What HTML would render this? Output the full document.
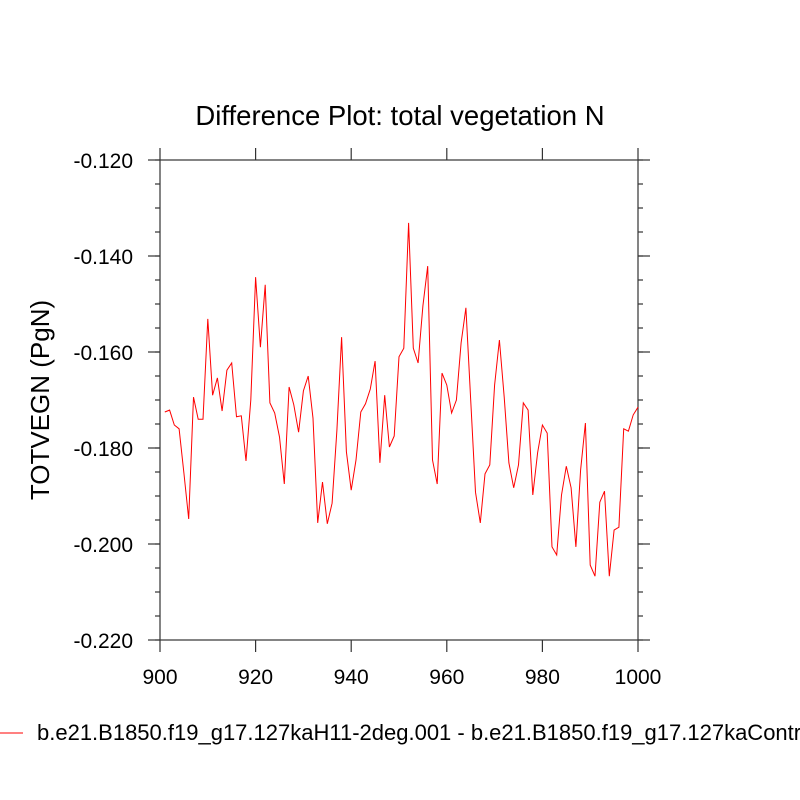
<!DOCTYPE html>
<html><head><meta charset="utf-8"><style>
html,body{margin:0;padding:0;background:#fff;width:800px;height:800px;overflow:hidden}
svg{display:block;font-family:"Liberation Sans",Arial,sans-serif}
</style></head><body>
<svg id="chart" width="800" height="800" viewBox="0 0 800 800">
<text x="400" y="125" font-size="27.5" text-anchor="middle">Difference Plot: total vegetation N</text>
<text transform="translate(49,400) rotate(-90)" font-size="26" text-anchor="middle">TOTVEGN  (PgN)</text>
<g id="axes"></g>
<g id="series"></g>
<line x1="0" y1="733" x2="23" y2="733" stroke="#ff0000" stroke-width="1"/>
<text x="37" y="740" font-size="22">b.e21.B1850.f19_g17.127kaH11-2deg.001 - b.e21.B1850.f19_g17.127kaControl</text>
</svg>
<script>
const years = Array.from({length:100},(_,i)=>901+i);
const values = [-0.1725,-0.1721,-0.1752,-0.1760,-0.1852,-0.1948,-0.1694,-0.1740,-0.1740,-0.1531,
-0.1690,-0.1654,-0.1723,-0.1638,-0.1623,-0.1735,-0.1733,-0.1827,-0.1700,-0.1444,
-0.1590,-0.1460,-0.1706,-0.1727,-0.1777,-0.1875,-0.1673,-0.1710,-0.1767,-0.1681,
-0.1650,-0.1738,-0.1956,-0.1871,-0.1958,-0.1915,-0.1763,-0.1569,-0.1808,-0.1888,
-0.1825,-0.1725,-0.1708,-0.1677,-0.1619,-0.1831,-0.1690,-0.1798,-0.1775,-0.1610,
-0.1592,-0.1331,-0.1592,-0.1623,-0.1504,-0.1421,-0.1825,-0.1875,-0.1644,-0.1669,
-0.1727,-0.1700,-0.1581,-0.1508,-0.1700,-0.1892,-0.1956,-0.1854,-0.1835,-0.1669,
-0.1575,-0.1694,-0.1831,-0.1883,-0.1835,-0.1706,-0.1721,-0.1898,-0.1810,-0.1752,
-0.1769,-0.2006,-0.2023,-0.1898,-0.1838,-0.1883,-0.2006,-0.1846,-0.1748,-0.2044,
-0.2067,-0.1913,-0.1890,-0.2067,-0.1971,-0.1965,-0.1760,-0.1765,-0.1731,-0.1715];
const xTicks = [900,920,940,960,980,1000];
const yTicks = [-0.12,-0.14,-0.16,-0.18,-0.2,-0.22];
const yTickLabels = ["-0.120","-0.140","-0.160","-0.180","-0.200","-0.220"];

const L=160,R=638,T=160,B=640,xMin=900,xMax=1000,yMin=-0.22,yMax=-0.12;
const sx=v=>L+(v-xMin)/(xMax-xMin)*(R-L);
const sy=v=>B-(v-yMin)/(yMax-yMin)*(B-T);
const NS="http://www.w3.org/2000/svg";
const axes=document.getElementById('axes');
function ln(x1,y1,x2,y2,name){const e=document.createElementNS(NS,'line');
e.setAttribute('x1',x1);e.setAttribute('y1',y1);e.setAttribute('x2',x2);e.setAttribute('y2',y2);
e.setAttribute('stroke','#333');e.setAttribute('stroke-width','1.2');


axes.appendChild(e);return e;}
function tx(x,y,s,anchor,name){const e=document.createElementNS(NS,'text');
e.setAttribute('x',x);e.setAttribute('y',y);e.setAttribute('font-size','21');e.setAttribute('text-anchor',anchor);e.textContent=s;


axes.appendChild(e);}
const fr=document.createElementNS(NS,'rect');
fr.setAttribute('x',L);fr.setAttribute('y',T);fr.setAttribute('width',R-L);fr.setAttribute('height',B-T);
fr.setAttribute('fill','none');fr.setAttribute('stroke','#333');fr.setAttribute('stroke-width','1.2');


axes.appendChild(fr);
xTicks.forEach(v=>{const x=sx(v);ln(x,B,x,B+12,'x-tick');ln(x,T,x,T-12,'x-tick-top');tx(x,B+44,String(v),'middle','x-tick-label');});
yTicks.forEach((v,i)=>{const y=sy(v);ln(L,y,L-12,y,'y-tick');ln(R,y,R+12,y,'y-tick-right');tx(L-27,y+8,yTickLabels[i],'end','y-tick-label');});
for(let v=yMin;v<=yMax+1e-9;v+=0.005){const y=sy(v);ln(L,y,L-5,y,'y-minor-tick');ln(R,y,R+5,y,'y-minor-tick-right');}
const pts=years.map((yr,i)=>sx(yr).toFixed(1)+','+sy(values[i]).toFixed(1)).join(' ');
const pl=document.createElementNS(NS,'polyline');
pl.setAttribute('points',pts);pl.setAttribute('fill','none');pl.setAttribute('stroke','#ff0000');pl.setAttribute('stroke-width','1');


document.getElementById('series').appendChild(pl);
</script>
</body></html>
